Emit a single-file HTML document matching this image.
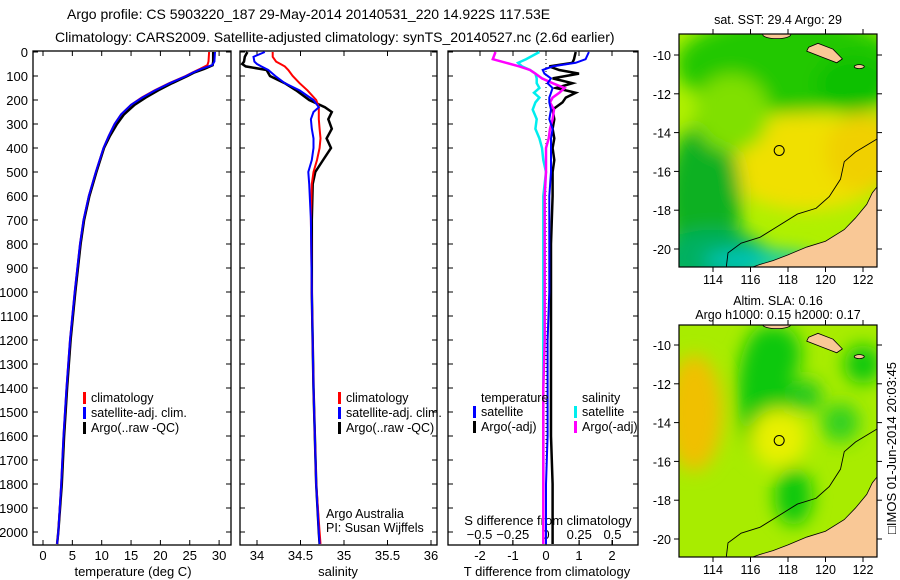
<!DOCTYPE html>
<html><head><meta charset="utf-8">
<style>
html,body{margin:0;padding:0;background:#fff;}
svg{display:block;font-family:"Liberation Sans",sans-serif;}
text{font-size:12px;fill:#000;}
</style></head>
<body>
<svg id="c" width="900" height="580" viewBox="0 0 900 580">
<defs>
 <filter id="bl" x="-50%" y="-50%" width="200%" height="200%"><feGaussianBlur stdDeviation="9"/></filter>
 <clipPath id="m1"><rect x="679" y="34" width="198" height="233"/></clipPath>
 <clipPath id="m2"><rect x="679" y="325" width="198" height="232"/></clipPath>
</defs>
<text x="67" y="19" style="font-size:14px">Argo profile: CS 5903220_187 29-May-2014 20140531_220 14.922S 117.53E</text>
<text x="55" y="42" style="font-size:14px">Climatology: CARS2009. Satellite-adjusted climatology: synTS_20140527.nc (2.6d earlier)</text>
<g id="g"></g>
</svg>
<script>
// ---- data ----
const tDepth=[0,40,55,70,85,100,130,160,190,220,260,300,350,400,500,600,700,800,1000,1200,1400,1600,1800,2000,2050];
const tClim=[28.3,28.2,28.0,26.8,25.5,24.3,21.5,19,16.8,15,13.3,12.2,11.2,10.3,9,7.8,6.9,6.3,5.4,4.6,4.0,3.5,3.1,2.6,2.4];
const tSat=[29.3,29.2,28.8,27.0,25.6,24.4,21.6,19.1,16.9,15.0,13.3,12.2,11.2,10.3,9,7.8,6.9,6.3,5.4,4.6,4.0,3.5,3.1,2.6,2.4];
const tArgo=[29.0,29.0,28.9,27.5,25.8,24.6,22.0,19.6,17.5,15.6,13.8,12.6,11.4,10.4,9.1,7.9,7.0,6.4,5.5,4.7,4.1,3.6,3.2,2.6,2.4];
const sDepth=[0,20,40,50,60,75,100,130,160,200,230,250,280,320,360,400,450,500,550,700,1000,1400,1800,2000,2050];
const sClim=[34.18,34.18,34.22,34.27,34.32,34.36,34.41,34.49,34.58,34.68,34.71,34.71,34.71,34.72,34.73,34.72,34.69,34.65,34.63,34.62,34.63,34.65,34.68,34.72,34.73];
const sSat=[34.09,33.96,33.97,34.0,34.05,34.13,34.21,34.32,34.49,34.65,34.71,34.65,34.62,34.63,34.65,34.65,34.63,34.59,34.6,34.62,34.63,34.65,34.68,34.71,34.72];
const sArgo=[33.89,33.86,33.85,33.83,33.87,34.11,34.15,34.32,34.45,34.6,34.78,34.86,34.82,34.86,34.8,34.85,34.76,34.67,34.64,34.63,34.63,34.65,34.68,34.71,34.72];
const dDepth=[0,30,45,60,75,90,110,130,150,170,190,210,240,280,320,360,400,450,500,600,800,1000,1200,1400,1600,1800,2000,2050];
const dTSat=[1.3,1.2,0.9,0.2,-0.1,-0.05,0.15,0.05,0.2,0.15,0.1,0.1,0.15,0.1,0.2,0.15,0.15,0.15,0.15,0.1,0.1,0.1,0.05,0.05,0.05,0.0,0.0,0.0];
const dTArgo=[0.9,0.85,0.8,0.1,0.4,1.0,0.2,0.8,0.3,0.9,0.6,0.5,0.2,0.25,0.2,0.25,0.2,0.25,0.2,0.2,0.15,0.15,0.15,0.15,0.15,0.2,0.2,0.2];
const dSSat=[-0.05,-0.15,-0.21,-0.18,-0.12,-0.08,-0.07,-0.07,-0.05,-0.09,-0.05,-0.08,-0.1,-0.07,-0.08,-0.05,-0.03,-0.02,0,-0.02,-0.02,-0.02,-0.02,-0.02,-0.02,-0.02,-0.02,-0.02];
const dSArgo=[-0.38,-0.4,-0.3,-0.2,-0.12,-0.08,-0.03,0.05,0.14,0.1,0.05,0.03,0.06,0.05,0.03,0.02,0.0,0.0,0.0,-0.01,-0.01,-0.01,-0.01,-0.02,-0.02,-0.02,-0.02,-0.02];
const depthTicks=[0,100,200,300,400,500,600,700,800,900,1000,1100,1200,1300,1400,1500,1600,1700,1800,1900,2000];
const tTicks=[0,5,10,15,20,25,30];
const sTicks=[34,34.5,35,35.5,36];
const tdTicks=[-2,-1,0,1,2];
const sdTicks=[-0.5,-0.25,0,0.25,0.5];
const lonTicks=[114,116,118,120,122];
const latTicks=[-10,-12,-14,-16,-18,-20];
// ---- scales ----
const yD=d=>52+d*0.24;
const xT=t=>43+t*5.87;
const xS=s=>257+(s-34)*87;
const xTD=t=>546+t*33;
const xSD=s=>546+s*133;
const NS='http://www.w3.org/2000/svg';
const g=document.getElementById('g');
function mk(tag,at,parent){const e=document.createElementNS(NS,tag);for(const k in at)e.setAttribute(k,at[k]);(parent||g).appendChild(e);return e;}
function txt(x,y,s,anchor,size){const e=mk('text',{x:x,y:y,'text-anchor':anchor||'start'});if(size)e.style.fontSize=size+'px';e.textContent=s;return e;}
function line(xs,ds,fx,col,w,name){
  const pts=xs.map((v,i)=>fx(v).toFixed(1)+','+yD(ds[i]).toFixed(1)).join(' ');
  const e=mk('polyline',{points:pts,fill:'none',stroke:col,'stroke-width':w});
  
  
}
// panels
const panels=[[33,231],[240,437],[448,638]];
panels.forEach((p,i)=>{
  const r=mk('rect',{x:p[0],y:51,width:p[1]-p[0],height:494,fill:'none',stroke:'#000','stroke-width':1.3});
  
  
});
depthTicks.forEach(d=>{
  const t=txt(28,yD(d)+5,String(d),'end',13);
  
  
  panels.forEach(p=>{mk('line',{x1:p[0],x2:p[0]+5,y1:yD(d),y2:yD(d),stroke:'#000'});mk('line',{x1:p[1],x2:p[1]-5,y1:yD(d),y2:yD(d),stroke:'#000'});});
});
function xticks(ticks,fx,y){
  ticks.forEach(v=>{mk('line',{x1:fx(v),x2:fx(v),y1:545,y2:540,stroke:'#000'});mk('line',{x1:fx(v),x2:fx(v),y1:51,y2:56,stroke:'#000'});
   const t=txt(fx(v),y,String(v),'middle',13);
   
   });
}
xticks(tTicks,xT,560);
xticks(sTicks,xS,560);
xticks(tdTicks,xTD,560);
sdTicks.forEach(v=>{mk('line',{x1:xSD(v),x2:xSD(v),y1:545,y2:540,stroke:'#000'});
  const t=txt(xSD(v),539,String(v).replace('-','\u2212'),'middle',13);
  
  });
let a=txt(133,576,'temperature (deg C)','middle',13);
a=txt(338,576,'salinity','middle',13);
a=txt(547,576,'T difference from climatology','middle',13);
a=txt(548,525,'S difference from climatology','middle',13);
// series
line(tArgo,tDepth,xT,'#000',2.5,'temp-argo-line');
line(tClim,tDepth,xT,'#f00',2,'temp-clim-line');
line(tSat,tDepth,xT,'#00f',2,'temp-sat-line');
line(sArgo,sDepth,xS,'#000',2.5,'sal-argo-line');
line(sClim,sDepth,xS,'#f00',2,'sal-clim-line');
line(sSat,sDepth,xS,'#00f',2,'sal-sat-line');
mk('line',{x1:546,x2:546,y1:51,y2:545,stroke:'#000','stroke-dasharray':'1,3'});
line(dTArgo,dDepth,xTD,'#000',2.5,'tdiff-argo-line');
line(dSSat,dDepth,xSD,'#0ee',2.5,'sdiff-sat-line');
line(dSArgo,dDepth,xSD,'#f0f',2.5,'sdiff-argo-line');
line(dTSat,dDepth,xTD,'#00f',2,'tdiff-sat-line');
// legends
function leg(x,y,col,label){mk('rect',{x:x,y:y-10,width:3,height:12,fill:col});const t=txt(x+8,y,label,'start',12.5);}
leg(83,402,'#f00','climatology');leg(83,417,'#00f','satellite-adj. clim.');leg(83,432,'#000','Argo(..raw -QC)');
leg(338,402,'#f00','climatology');leg(338,417,'#00f','satellite-adj. clim.');leg(338,432,'#000','Argo(..raw -QC)');
a=txt(481,402,'temperature','start',12.5);
a=txt(582,402,'salinity','start',12.5);
leg(473,416,'#00f','satellite');leg(473,431,'#000','Argo(-adj)');
leg(574,416,'#0ee','satellite');leg(574,431,'#f0f','Argo(-adj)');
a=txt(326,518,'Argo Australia','start',12.5);
a=txt(326,532,'PI: Susan Wijffels','start',12.5);
// maps
function map(top,bot,lat10,clip,blobs,base,title1,title2,name){
  const grp=mk('g',{'clip-path':'url(#'+clip+')'});
  
  
  const lon=v=>713+(v-114)*18.75, lat=v=>lat10+(-10-v)*19.4;
  mk('rect',{x:679,y:top,width:198,height:bot-top,fill:base},grp);
  const bg=mk('g',{filter:'url(#bl)'},grp);
  blobs.forEach(b=>mk('ellipse',{cx:lon(b[0]),cy:lat(b[1]),rx:b[2]*18.75,ry:b[3]*19.4,fill:b[4]},bg));
  const land=[[123,-16.5],[122.5,-17.1],[122.2,-17.7],[121.6,-18.4],[121,-19],[120,-19.6],[119,-19.9],[118,-20.3],[117.2,-20.6],[116.5,-20.8],[115.9,-21],[123,-21]];
  mk('polygon',{points:land.map(p=>lon(p[0])+','+lat(p[1])).join(' '),fill:'#f9c896',stroke:'#000','stroke-width':0.8},grp);
  const isl=[[119.1,-9.6],[119.6,-9.4],[120.4,-9.7],[120.9,-10.2],[120.6,-10.4],[119.8,-10.1],[119,-9.8]];
  mk('polygon',{points:isl.map(p=>lon(p[0])+','+lat(p[1])).join(' '),fill:'#f9c896',stroke:'#000','stroke-width':0.8},grp);
  mk('ellipse',{cx:lon(117.4),cy:lat(-8.95),rx:14,ry:4,fill:'#f9c896',stroke:'#000','stroke-width':0.8},grp);
  mk('ellipse',{cx:lon(121.8),cy:lat(-10.6),rx:5,ry:2,fill:'#f9c896',stroke:'#000','stroke-width':0.8},grp);
  const cont=[[114.7,-21],[114.8,-20.2],[115.5,-19.7],[116.5,-19.4],[117.5,-18.8],[118.5,-18.2],[119.5,-17.9],[120.2,-17.3],[120.8,-16.4],[121,-15.5],[121.6,-15],[122.8,-14.3]];
  mk('polyline',{points:cont.map(p=>lon(p[0])+','+lat(p[1])).join(' '),fill:'none',stroke:'#000','stroke-width':0.9},grp);
  const c=mk('circle',{cx:lon(117.53),cy:lat(-14.922),r:5,fill:'none',stroke:'#000','stroke-width':1});
  
  
  mk('rect',{x:679,y:top,width:198,height:bot-top,fill:'none',stroke:'#000','stroke-width':1.2});
  lonTicks.forEach(v=>{mk('line',{x1:lon(v),x2:lon(v),y1:bot,y2:bot+5,stroke:'#000'});mk('line',{x1:lon(v),x2:lon(v),y1:top,y2:top-5,stroke:'#000'});
    const t=txt(lon(v),bot+17,String(v),'middle',12.5);});
  latTicks.forEach(v=>{mk('line',{x1:679,x2:674,y1:lat(v),y2:lat(v),stroke:'#000'});mk('line',{x1:877,x2:882,y1:lat(v),y2:lat(v),stroke:'#000'});
    const t=txt(671,lat(v)+5,String(v),'end',12.5);});
  let t=txt(778,top-(title2?20:10),title1,'middle',12.5);
  if(title2){t=txt(778,top-6,title2,'middle',12.5);}
}
const sstBlobs=[[118,-10.5,6,2.5,'#20c800'],[121.5,-11.5,2,1.5,'#10c000'],[119,-15.5,4.5,2.5,'#f0e000'],[122,-15,2,2,'#f0d000'],[113.5,-17.5,2,4,'#10b020'],[114,-20.5,3,1.5,'#00b060'],[116.5,-20.6,3,0.5,'#00c8c0'],[115,-13,2,2,'#80e000']];
const slaBlobs=[[113,-13.5,1.5,3,'#f0c000'],[116.8,-12.5,1.5,3.5,'#10c810'],[117.5,-10.5,1.2,1.5,'#10c810'],[118.3,-17.8,1,1.5,'#10c810'],[122,-11,1,1,'#10c810'],[119,-12.6,0.8,0.8,'#20c820'],[120.8,-14,1,1,'#30d020'],[117.5,-14.8,1.5,1.5,'#e8f000']];
map(34,267,55,'m1',sstBlobs,'#b0f000','sat. SST: 29.4  Argo: 29',null,'sst-map');
map(325,557,345,'m2',slaBlobs,'#a8ec00','Altim. SLA: 0.16','Argo h1000: 0.15 h2000: 0.17','sla-map');
const v=mk('text',{x:0,y:0,transform:'translate(896,448) rotate(-90)','text-anchor':'middle'});
v.style.fontSize='13px';v.textContent='\u25A1IMOS 01-Jun-2014 20:03:45';


</script>
</body></html>
